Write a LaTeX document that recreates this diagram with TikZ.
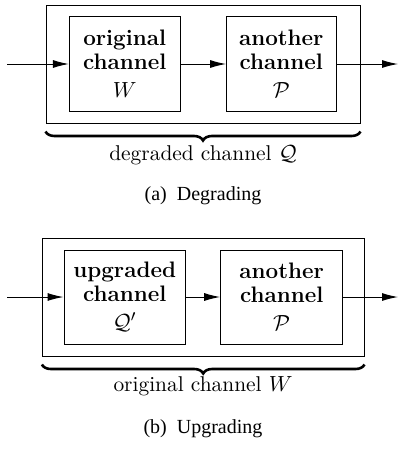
\documentclass[tikz,border=0pt]{standalone}
\usepackage{fontspec}
\newfontfamily\capfont{Liberation Serif}
\usetikzlibrary{arrows.meta,decorations.pathreplacing}
\begin{document}
\begin{tikzpicture}[x=0.5pt,y=-0.5pt,
  chan/.style={draw,line width=0.5pt,align=center,inner sep=0pt,
    font=\bfseries\fontsize{11.2}{12.2}\selectfont},
  outerbox/.style={draw,line width=0.5pt,inner sep=0pt},
  flow/.style={line width=0.5pt,-{Latex[length=8pt,width=4pt]}},
  brc/.style={decorate,decoration={brace,mirror,amplitude=4.5pt},line width=1.3pt},
  lab/.style={font=\fontsize{10.7}{12}\selectfont},
  captext/.style={font=\capfont\fontsize{10}{12}\selectfont}]
\useasboundingbox (0,0) rectangle (398,450);
% ---- (a) Degrading
\node[outerbox,minimum width=157pt,minimum height=59pt] (oa) at (203,64) {};
\node[chan,minimum width=55.3pt,minimum height=47.2pt] (a1) at (124.7,64) {original\\channel\\[1.8pt]$W$};
\node[chan,minimum width=54.7pt,minimum height=47.2pt] (a2) at (281.3,64) {another\\channel\\[1.8pt]$\mathcal{P}$};
\coordinate (ain) at (7,64);
\coordinate (aout) at (398,64);
\draw[flow] (ain) -- (a1);
\draw[flow] (a1) -- (a2);
\draw[flow] (a2) -- (aout);
\coordinate (abl) at ([yshift=-4pt]oa.south west);
\coordinate (abr) at ([yshift=-4pt]oa.south east);
\draw[brc] (abl) -- (abr);
\node[lab] (la) at (203,155) {degraded channel $\mathcal{Q}$};
\node[captext] (ca) at (203,196) {(a)\ \ Degrading};
% ---- (b) Upgrading
\node[outerbox,minimum width=160.8pt,minimum height=58.8pt] (ob) at (203.2,297.2) {};
\node[chan,minimum width=60.7pt,minimum height=47pt] (b1) at (124.7,297) {upgraded\\channel\\[1.8pt]$\mathcal{Q}'$};
\node[chan,minimum width=61pt,minimum height=47pt] (b2) at (281.7,297) {another\\channel\\[1.8pt]$\mathcal{P}$};
\coordinate (bin) at (7,297);
\coordinate (bout) at (398,297);
\draw[flow] (bin) -- (b1);
\draw[flow] (b1) -- (b2);
\draw[flow] (b2) -- (bout);
\coordinate (bbl) at ([yshift=-4pt]ob.south west);
\coordinate (bbr) at ([yshift=-4pt]ob.south east);
\draw[brc] (bbl) -- (bbr);
\node[lab] (lb) at (203,386) {original channel $W$};
\node[captext] (cb) at (203,429) {(b)\ \ Upgrading};
\end{tikzpicture}
\end{document}
